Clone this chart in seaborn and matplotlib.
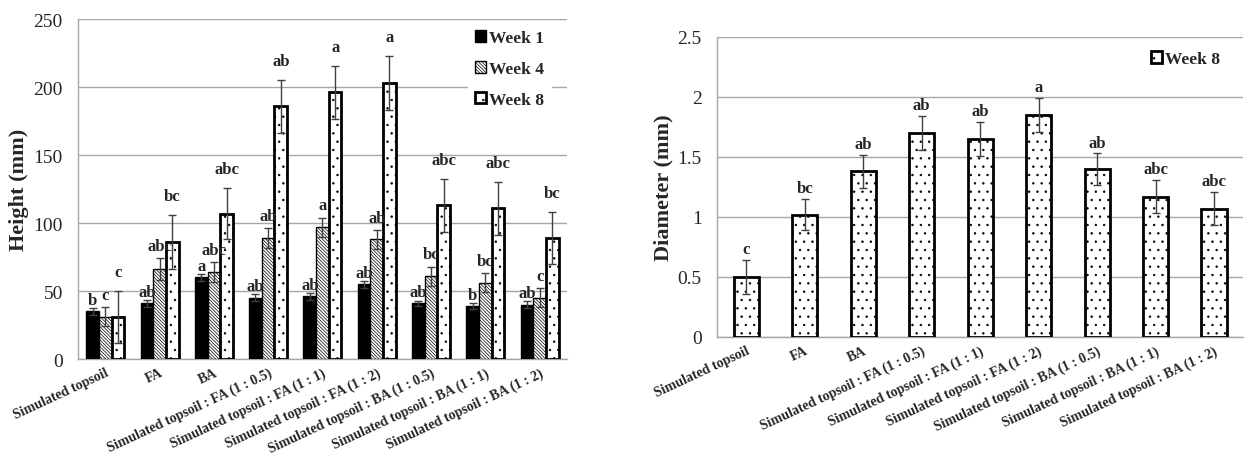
import numpy as np
import pandas as pd
import matplotlib
matplotlib.use("Agg")
import matplotlib.pyplot as plt
import seaborn as sns

treatments = ["Simulated topsoil", "FA", "BA",
              "Simulated topsoil : FA (1 : 0.5)", "Simulated topsoil : FA (1 : 1)",
              "Simulated topsoil : FA (1 : 2)", "Simulated topsoil : BA (1 : 0.5)",
              "Simulated topsoil : BA (1 : 1)", "Simulated topsoil : BA (1 : 2)"]
weeks = ["Week 1", "Week 4", "Week 8"]

height_w1 = [35, 41, 60, 45, 46, 55, 41, 39, 40]
height_w4 = [31, 66, 64, 89, 97, 88, 61, 56, 45]
height_w8 = [31, 86, 107, 186, 196, 203, 113, 111, 89]
height_err_w1 = [2.5, 2.5, 2.5, 2.5, 2.5, 2.5, 2, 2, 2.5]
height_err_w4 = [7, 8, 7, 7, 7, 7, 7, 7, 7]
height_err_w8 = [19, 20, 19, 19.5, 19.5, 20, 19.5, 19.5, 19]
height_letters_w1 = ["b", "ab", "a", "ab", "ab", "ab", "ab", "b", "ab"]
height_letters_w4 = ["c", "abc", "abc", "ab", "a", "ab", "bc", "bc", "c"]
height_letters_w8 = ["c", "bc", "abc", "ab", "a", "a", "abc", "abc", "bc"]

diameter_w8 = [0.50, 1.02, 1.38, 1.70, 1.65, 1.85, 1.40, 1.17, 1.07]
diameter_err_w8 = [0.14, 0.13, 0.14, 0.14, 0.14, 0.14, 0.13, 0.14, 0.14]
diameter_letters_w8 = ["c", "bc", "ab", "ab", "ab", "a", "ab", "abc", "abc"]

sns.set_theme(style="white")
plt.rcParams["font.family"] = ["Liberation Serif", "DejaVu Serif"]
plt.rcParams["hatch.linewidth"] = 0.5

df = pd.DataFrame({
    "treatment": treatments * 3,
    "week": np.repeat(weeks, len(treatments)),
    "height": height_w1 + height_w4 + height_w8,
})
df_d = pd.DataFrame({"treatment": treatments, "diameter": diameter_w8})

fig = plt.figure(figsize=(12.47, 4.56), dpi=100)
ax1 = fig.add_axes([0.0626, 0.2105, 0.392, 0.7455])
ax2 = fig.add_axes([0.575, 0.2588, 0.422, 0.658])

grid_c = "#a6a6a6"
err_c = "#404040"
dots = ".."

# ---- left: height
sns.barplot(data=df, x="treatment", y="height", hue="week", order=treatments,
            hue_order=weeks, palette=["black", "white", "white"], width=0.7,
            errorbar=None, ax=ax1, zorder=3)
bars1 = list(ax1.containers)
styles = [dict(fc="black", ec="black", lw=1.0, hatch=None),
          dict(fc="white", ec="black", lw=1.0, hatch="\\" * 10),
          dict(fc="white", ec="black", lw=2.0, hatch=dots)]
errs = [height_err_w1, height_err_w4, height_err_w8]
letters = [height_letters_w1, height_letters_w4, height_letters_w8]
offsets = [6, 9, 14]
for cont, st, er, let, off in zip(bars1, styles, errs, letters, offsets):
    xs, ys = [], []
    for p in cont.patches:
        p.set_facecolor(st["fc"])
        p.set_edgecolor(st["ec"])
        p.set_linewidth(st["lw"])
        if st["hatch"]:
            p.set_hatch(st["hatch"])
        xs.append(p.get_x() + p.get_width() / 2)
        ys.append(p.get_height())
    ax1.errorbar(xs, ys, yerr=er, fmt="none", ecolor=err_c, elinewidth=1,
                 capsize=3, capthick=1, zorder=4)
    for x, y, e, t in zip(xs, ys, er, let):
        ax1.text(x, y + e + off, t, ha="center", va="center", fontsize=12,
                 fontweight="bold", zorder=5)

ax1.set_ylim(0, 250)
ax1.set_yticks(np.arange(0, 251, 50))
ax1.set_ylabel("Height (mm)", fontsize=16, fontweight="bold", labelpad=3)
leg = ax1.legend(handles=[c.patches[0] for c in bars1], labels=weeks,
                 loc="center right", bbox_to_anchor=(0.985, 0.853), frameon=True,
                 fancybox=False, edgecolor="white", framealpha=1,
                 handlelength=0.65, handleheight=0.65, handletextpad=0.15,
                 labelspacing=0.85, prop={"weight": "bold", "size": 12.5})
leg.set_zorder(6)

# ---- right: diameter
sns.barplot(data=df_d, x="treatment", y="diameter", order=treatments, color="white",
            width=0.43, errorbar=None, ax=ax2, zorder=3)
bars2 = ax2.containers[0]
xs, ys = [], []
for p in bars2.patches:
    p.set_facecolor("white")
    p.set_edgecolor("black")
    p.set_linewidth(2.0)
    p.set_hatch(dots)
    xs.append(p.get_x() + p.get_width() / 2)
    ys.append(p.get_height())
ax2.errorbar(xs, ys, yerr=diameter_err_w8, fmt="none", ecolor=err_c, elinewidth=1,
             capsize=3, capthick=1, zorder=4)
for x, y, e, t in zip(xs, ys, diameter_err_w8, diameter_letters_w8):
    ax2.text(x, y + e + 0.09, t, ha="center", va="center", fontsize=12,
             fontweight="bold", zorder=5)
ax2.set_ylim(0, 2.5)
ax2.set_yticks(np.arange(0, 2.51, 0.5))
ax2.set_yticklabels([f"{v:g}" for v in np.arange(0, 2.51, 0.5)])
ax2.set_ylabel("Diameter (mm)", fontsize=16, fontweight="bold", labelpad=3)
ax2.legend(handles=[bars2.patches[0]], labels=["Week 8"],
           loc="center right", bbox_to_anchor=(0.985, 0.927), frameon=False,
           handlelength=0.65, handleheight=0.65, handletextpad=0.15,
           prop={"weight": "bold", "size": 12.5})

for ax in (ax1, ax2):
    ax.set_xlabel("")
    ax.set_xlim(-0.5, len(treatments) - 0.5)
    ax.yaxis.grid(True, color=grid_c, lw=1, zorder=0)
    ax.set_axisbelow(True)
    for s in ("top", "right"):
        ax.spines[s].set_visible(False)
    for s in ("left", "bottom"):
        ax.spines[s].set_color(grid_c)
        ax.spines[s].set_linewidth(1)
    ax.set_xticks(np.arange(len(treatments)))
    ax.set_xticklabels(treatments, rotation=25, ha="right", rotation_mode="anchor",
                       fontsize=10, fontweight="bold")
    ax.set_xticks(np.arange(-0.5, len(treatments), 1), minor=True)
    ax.tick_params(axis="x", which="major", length=0, pad=5)
    ax.tick_params(axis="x", which="minor", length=5, color=grid_c, direction="out")
    ax.tick_params(axis="y", length=4, color=grid_c, direction="out", labelsize=14, pad=7)

fig.savefig("out.png", dpi=100)
